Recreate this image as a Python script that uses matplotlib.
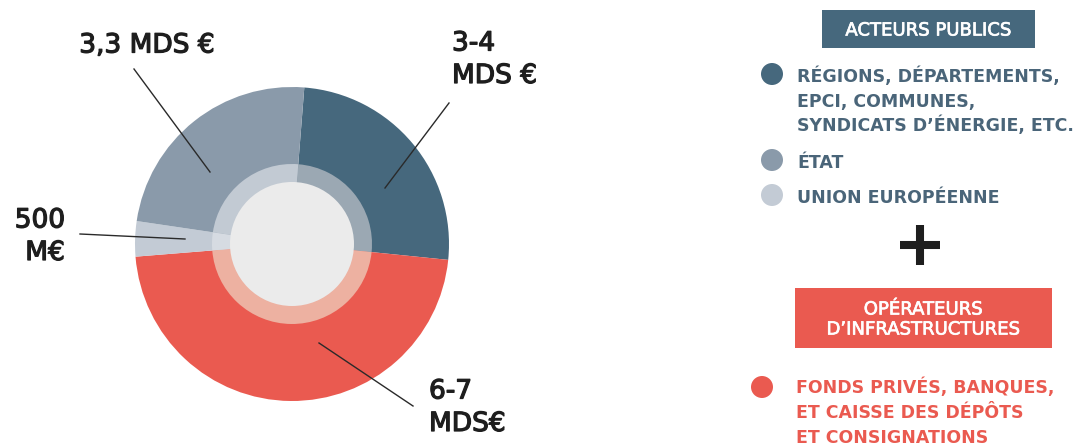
import matplotlib
matplotlib.use("Agg")
import matplotlib.pyplot as plt
import matplotlib.patheffects as pe
from matplotlib.patches import Circle, Rectangle

# Financement (milliards €) - ordre horaire depuis le haut
segments   = ["Collectivités", "Opérateurs", "UE", "État"]
values     = [3.5, 6.5, 0.5, 3.3]
labels     = [["3-4", "MDS €"], ["6-7", "MDS€"], ["500", "M€"], ["3,3 MDS €"]]
outer_cols = ["#46687d", "#ea5a50", "#c3cbd5", "#8a9aaa"]
inner_cols = ["#9ba8b3", "#edb1a1", "#d6dbe2", "#c2cad3"]

legend_public = [["RÉGIONS, DÉPARTEMENTS,", "EPCI, COMMUNES,", "SYNDICATS D’ÉNERGIE, ETC."],
                 ["ÉTAT"], ["UNION EUROPÉENNE"]]
legend_public_cols = ["#46687d", "#8a9aaa", "#c3cbd5"]
legend_private = ["FONDS PRIVÉS, BANQUES,", "ET CAISSE DES DÉPÔTS", "ET CONSIGNATIONS"]
box_public = "ACTEURS PUBLICS"
box_private = ["OPÉRATEURS", "D’INFRASTRUCTURES"]

W, H = 1077, 446
FONT = "DejaVu Sans"
DARK_TXT = "#1e1e1e"
BLUE_TXT = "#4a6579"
RED = "#ea5a50"

fig = plt.figure(figsize=(W / 100, H / 100), dpi=100)
ax = fig.add_axes([0, 0, 1, 1])
ax.set_xlim(0, W)
ax.set_ylim(0, H)
ax.set_aspect("equal")
ax.axis("off")

def Y(y):  # image y (top-down) -> axes y
    return H - y

center = (292, Y(244))

# ── Donut ────────────────────────────────────────────
ax.pie(values, colors=outer_cols, radius=157, center=center, startangle=85.5,
       counterclock=False, wedgeprops=dict(linewidth=0), frame=False)
ax.pie(values, colors=inner_cols, radius=80, center=center, startangle=85.5,
       counterclock=False, wedgeprops=dict(linewidth=0), frame=False)
ax.add_patch(Circle(center, 62, color="#ebebeb", lw=0, zorder=5))
ax.set_xlim(0, W)
ax.set_ylim(0, H)

# ── Labels + leader lines ────────────────────────────
lab_kw = dict(fontsize=19, color=DARK_TXT, family=FONT, va="baseline",
              path_effects=[pe.withStroke(linewidth=0.9, foreground=DARK_TXT)])
leaders = [((449, 103), (385, 188)), ((319, 343), (413, 406)),
           ((80, 234), (185, 239)), ((134, 69), (210, 172))]
for (x0, y0), (x1, y1) in leaders:
    ax.plot([x0, x1], [Y(y0), Y(y1)], color="#2a2a2a", lw=1.0, zorder=6)

# (x, ha, first line cap-centre y)
lab_pos = [(452, "left", 41), (429, "left", 389), (65, "right", 218), (147, "center", 43)]
for lines, (x, ha, yc) in zip(labels, lab_pos):
    for i, ln in enumerate(lines):
        ax.text(x, Y(yc + 9.5 + i * 32.5), ln, ha=ha, **lab_kw)

# ── Legend : acteurs publics ─────────────────────────
box_kw = dict(color="white", fontsize=13, family=FONT, ha="center", va="baseline",
              path_effects=[pe.withStroke(linewidth=0.5, foreground="white")])
ax.add_patch(Rectangle((822, Y(48)), 213, 38, color="#46687d", lw=0))
ax.text(928, Y(29 + 6.5), box_public, **box_kw)

leg_kw = dict(fontsize=12.5, fontweight="bold", family=FONT, ha="left", va="baseline")
item_y = [76, 162, 197]
for lines, col, yy in zip(legend_public, legend_public_cols, item_y):
    ax.add_patch(Circle((772, Y(yy - 2)), 11, color=col, lw=0))
    for i, ln in enumerate(lines):
        ax.text(797, Y(yy + 6.3 + i * 24.5), ln, color=BLUE_TXT, **leg_kw)

# plus sign
ax.plot([900, 940], [Y(245), Y(245)], color="#1e1e1e", lw=5.8, solid_capstyle="butt")
ax.plot([920, 920], [Y(225), Y(265)], color="#1e1e1e", lw=5.8, solid_capstyle="butt")

# ── Legend : opérateurs ──────────────────────────────
ax.add_patch(Rectangle((795, Y(348)), 257, 60, color=RED, lw=0))
for i, ln in enumerate(box_private):
    ax.text(923, Y(308 + 6.5 + i * 20), ln, **box_kw)

ax.add_patch(Circle((762, Y(387)), 11, color=RED, lw=0))
for i, ln in enumerate(legend_private):
    ax.text(796, Y(387 + 6.3 + i * 25), ln, color=RED, **leg_kw)

fig.savefig("out.png", dpi=100)
